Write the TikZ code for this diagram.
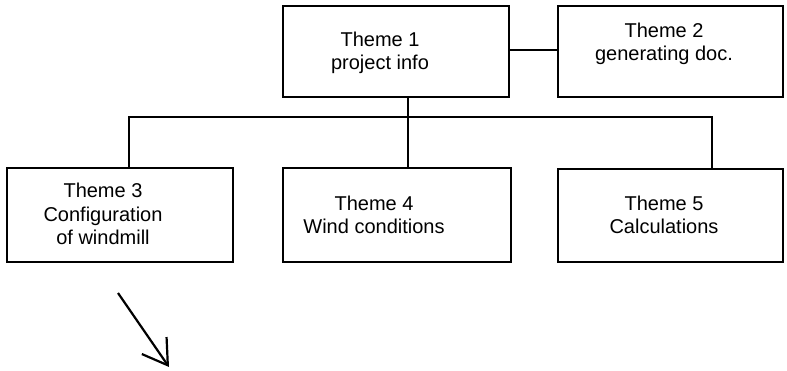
\documentclass[tikz,border=0pt]{standalone}
\usepackage{fontspec}
\setmainfont{Liberation Sans}
\usetikzlibrary{arrows.meta}
\begin{document}
\begin{tikzpicture}[x=1pt,y=-1pt,
  themebox/.style={draw, line width=2.2pt, rectangle, inner sep=0pt},
  themetext/.style={align=center, font=\fontsize{20}{23.5}\selectfont, inner sep=0pt},
  link/.style={line width=2.2pt}]
  \useasboundingbox (0,0) rectangle (787,371);
  % boxes
  \node[themebox, minimum width=226pt, minimum height=91pt] (b1) at (396,51.5) {};
  \node[themebox, minimum width=225pt, minimum height=91pt] (b2) at (670.5,51.5) {};
  \node[themebox, minimum width=226pt, minimum height=94pt] (b3) at (120,215) {};
  \node[themebox, minimum width=228pt, minimum height=94pt] (b4) at (397,215) {};
  \node[themebox, minimum width=225pt, minimum height=93pt] (b5) at (670.5,215.5) {};
  % labels
  \node[themetext] (t1) at (380,53) {Theme 1\\project info};
  \node[themetext] (t2) at (664,44) {Theme 2\\generating doc.};
  \node[themetext] (t3) at (103,214) {Theme 3\\Configuration\\of windmill};
  \node[themetext] (t4) at (374,215) {Theme 4\\Wind conditions};
  \node[themetext] (t5) at (664,215) {Theme 5\\Calculations};
  % connectors
  \coordinate (jl) at (129,117);
  \coordinate (jm) at (408,117);
  \coordinate (jr) at (712,117);
  \coordinate (side) at (0,50);
  \draw[link] (b1.east |- side) -- (b2.west |- side);
  \draw[link] (b1.south -| jm) -- (jm) -- (b4.north -| jm);
  \draw[link] (b3.north -| jl) -- (jl) -- (jr) -- (b5.north -| jr);
  % arrow
  \coordinate (a0) at (118,293);
  \coordinate (a1) at (169,367);
  \draw[line width=2.2pt, -{Straight Barb[length=24pt, width=30pt, line width=2.2pt]}] (a0) -- (a1);
\end{tikzpicture}
\end{document}
